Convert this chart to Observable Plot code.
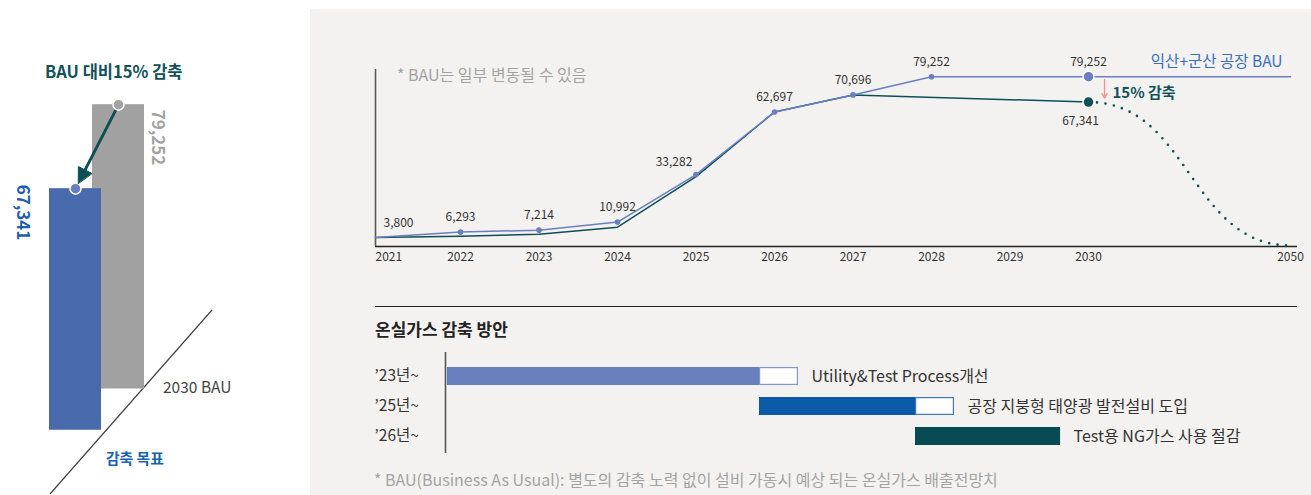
<!DOCTYPE html>
<html><head><meta charset="utf-8">
<script src="https://cdn.jsdelivr.net/npm/d3@7"></script>
<script src="https://cdn.jsdelivr.net/npm/@observablehq/plot@0.6"></script>
<style>
html,body{margin:0;padding:0;background:#fff;}
#root{position:relative;width:1311px;height:495px;overflow:hidden;font-family:"Noto Sans CJK KR","Noto Sans",sans-serif;}
.abs{position:absolute;}
.t{position:absolute;white-space:nowrap;line-height:1.2;transform:translateY(-50%);}
</style></head><body>
<div id="root">
 <div class="abs" style="left:310px;top:9px;width:1001px;height:486px;background:#f3f2f1"></div>
 <svg class="abs" style="left:0;top:0" width="310" height="495"><line x1="50" y1="494" x2="212" y2="310" stroke="#444" stroke-width="1.2"/></svg>
 <div id="left" class="abs" style="left:0;top:0;width:310px"></div>
 <div id="line" class="abs" style="left:0;top:0;width:1311px"></div>
 <div id="plan" class="abs" style="left:0;top:290px;width:1311px"></div>
 <div class="abs" style="left:375px;top:305.5px;width:922px;height:1.2px;background:#222"></div>
 <div class="t" style="left:45px;top:72px;font-size:16.5px;font-weight:700;color:#11525a">BAU 대비15% 감축</div>
 <div class="t" style="left:163px;top:386px;font-size:15.5px;color:#444">2030 BAU</div>
 <div class="t" style="left:106px;top:458px;font-size:14.8px;font-weight:700;color:#1763b0">감축 목표</div>
 <div class="t" style="left:397px;top:75px;font-size:16px;color:#a3a3a3">* BAU는 일부 변동될 수 있음</div>
 <div class="t" style="left:375px;top:329px;font-size:17px;font-weight:700;color:#222">온실가스 감축 방안</div>
 <div class="t" style="left:374px;top:480px;font-size:16px;color:#a3a3a3">* BAU(Business As Usual): 별도의 감축 노력 없이 설비 가동시 예상 되는 온실가스 배출전망치</div>
</div>
<script>
// ---------- data ----------
const compareLabels = ["감축 목표", "2030 BAU"];
const compareValues = [67341, 79252];

const bauYears = [2021, 2022, 2023, 2024, 2025, 2026, 2027, 2028, 2030];
const bauValues = [3800, 6293, 7214, 10992, 33282, 62697, 70696, 79252, 79252];
const bauHorizonYear = 2050;

const reducedYears = [2021, 2022, 2023, 2024, 2025, 2026, 2027, 2030];
const reducedValues = [3800, 4400, 5300, 8600, 32300, 62697, 70696, 67341];
const netZeroYear = 2050;
const netZeroValue = 0;

const axisYears = [2021, 2022, 2023, 2024, 2025, 2026, 2027, 2028, 2029, 2030, 2050];

const planLabels = ["’23년~", "’25년~", "’26년~"];
const planNames = ["Utility&Test Process개선", "공장 지붕형 태양광 발전설비 도입", "Test용 NG가스 사용 절감"];
const planStart = [2023, 2025, 2026];
const planEnd = [2025, 2026, 2026.93];
const planPending = [0.25, 0.25, 0];

// ---------- styles ----------
const C = {
  blueBar: "#4a6aae", grayBar: "#a0a1a0", blueDot: "#6a7fc0", grayDot: "#a3a3a3",
  teal: "#0e4f55", bau: "#6a7ec0", pink: "#f09090", text: "#333",
  plan: ["#6a7fbd", "#0b5aa8", "#064a52"], planEdge: ["#8596cf", "#3f79c2", "#064a52"]
};
const font = "'Noto Sans CJK KR','Noto Sans',sans-serif";
const fmt = d3.format(",");

// ---------- left comparison ----------
const overlap = 0.827;   // horizontal offset of second bar (layout)
const drop = 11500;      // visual baseline drop of target bar (layout)
const leftRows = compareValues.map((v, i) => ({
  label: compareLabels[i], value: v,
  x1: i * overlap, x2: i * overlap + 1, cx: i * overlap + 0.5,
  y1: i === 0 ? -drop : 0, y2: i === 0 ? v - drop : v,
  fill: i === 0 ? C.blueBar : C.grayBar, dot: i === 0 ? C.blueDot : C.grayDot
}));
const xL = {domain: [0, 1 + overlap], range: [49, 144]};
const yL = {domain: [0, 80000], range: [388.5, 101.5]};
const sx = d3.scaleLinear(xL.domain, xL.range), sy = d3.scaleLinear(yL.domain, yL.range);
const gRow = leftRows[1], bRow = leftRows[0];
const p0 = [sx(gRow.cx), sy(gRow.y2)], p1 = [sx(bRow.cx), sy(bRow.y2)];
const len = Math.hypot(p1[0] - p0[0], p1[1] - p0[1]);
const u = [(p1[0] - p0[0]) / len, (p1[1] - p0[1]) / len];
const nrm = [-u[1], u[0]];
const tip = [p1[0] - 6 * u[0], p1[1] - 6 * u[1]];
const base = [tip[0] - 15 * u[0], tip[1] - 15 * u[1]];
const hw = 7.5;
const toData = ([px, py]) => ({x: sx.invert(px), y: sy.invert(py)});
const tri = [tip, [base[0] + hw * nrm[0], base[1] + hw * nrm[1]], [base[0] - hw * nrm[0], base[1] - hw * nrm[1]]].map(toData);
const shaft = [[p0[0] + 4 * u[0], p0[1] + 4 * u[1]], [base[0] + 2 * u[0], base[1] + 2 * u[1]]].map(toData);

const left = Plot.plot({
  width: 310, height: 495, margin: 0,
  style: {background: "transparent", fontFamily: font, overflow: "visible"},
  x: {...xL, axis: null}, y: {...yL, axis: null}, color: {type: "identity"},
  marks: [
    Plot.rect([gRow, bRow], {x1: "x1", x2: "x2", y1: "y1", y2: "y2", fill: "fill"}),
    Plot.dot([bRow], {x: "cx", y: "y2", r: 5.5, fill: "dot", stroke: "#fff", strokeWidth: 1.5}),
    Plot.line(shaft, {x: "x", y: "y", stroke: C.teal, strokeWidth: 2.8}),
    Plot.line(tri, {x: "x", y: "y", curve: "linear-closed", fill: C.teal, stroke: C.teal, strokeWidth: 1}),
    Plot.dot([gRow], {x: "cx", y: "y2", r: 5.5, fill: "dot", stroke: "#fff", strokeWidth: 1.5}),
    Plot.text([gRow], {x: "x2", y: "y2", text: d => fmt(d.value), rotate: 90, textAnchor: "start", dx: 13, dy: 5, fill: "#a3a3a3", fontSize: 17, fontWeight: 700}),
    Plot.text([bRow], {x: "x1", y: "y2", text: d => fmt(d.value), rotate: 90, textAnchor: "start", dx: -27, dy: -4, fill: "#1c5eae", fontSize: 17, fontWeight: 700})
  ]
});
document.getElementById("left").append(left);

// ---------- line chart ----------
// broken time axis: first gap a bit wider, 2030→2050 compressed
const slot = d3.scaleLinear([2021, 2022, 2030, 2050], [0, 1.083, 9.083, 11.656]);
const bauData = bauYears.map((year, i) => ({year, value: bauValues[i]}));
const redData = reducedYears.map((year, i) => ({year, value: reducedValues[i]}));
const bauLast = bauData[bauData.length - 1];
const bauExt = [bauLast, {year: bauHorizonYear, value: bauLast.value}];
const redLast = redData[redData.length - 1];
const pathway = [redLast, {year: netZeroYear, value: netZeroValue}];
const yMin = -469, yMax = 82629;
const labelRows = bauData.map((d, i) => ({...d, i, text: fmt(d.value)}));
const X = d => slot(d.year);

const line = Plot.plot({
  width: 1311, height: 290, marginLeft: 375, marginRight: 14, marginTop: 69, marginBottom: 44,
  style: {background: "transparent", fontFamily: font, fontSize: "12px", overflow: "visible"},
  x: {domain: [0, 11.656], range: [375, 1290], axis: null},
  y: {domain: [yMin, yMax], axis: null},
  marks: [
    Plot.ruleX([0], {stroke: "#5a5a5a", strokeWidth: 1.6}),
    Plot.ruleY([yMin], {stroke: "#222", strokeWidth: 1.3}),
    Plot.line(pathway, {x: X, y: "value", curve: "bump-x", stroke: C.teal, strokeWidth: 2.6, strokeDasharray: "0 8.5", strokeLinecap: "round"}),
    Plot.line(bauExt, {x: X, y: "value", stroke: C.bau, strokeWidth: 1.5}),
    Plot.line(redData, {x: X, y: "value", stroke: C.teal, strokeWidth: 1.5}),
    Plot.line(bauData, {x: X, y: "value", stroke: C.bau, strokeWidth: 1.5}),
    Plot.dot(bauData.slice(1, -1), {x: X, y: "value", r: 2.8, fill: C.bau}),
    Plot.dot([bauLast], {x: X, y: "value", r: 5.5, fill: C.bau, stroke: "#fff", strokeWidth: 1.5}),
    Plot.dot([redLast], {x: X, y: "value", r: 5.5, fill: C.teal, stroke: "#fff", strokeWidth: 1.5}),
    Plot.arrow([{year: bauLast.year, y1: bauLast.value, y2: redLast.value}], {x1: X, x2: X, y1: "y1", y2: "y2", dx: 16, stroke: C.pink, strokeWidth: 1.3, headLength: 6, insetStart: 3, insetEnd: 4}),
    Plot.text([redLast], {x: X, y: "value", text: () => "15% 감축", dx: 24, dy: -9, textAnchor: "start", fill: "#11525a", fontSize: 15, fontWeight: 700}),
    Plot.text([bauExt[1]], {x: X, y: "value", text: () => "익산+군산 공장 BAU", dx: -8, dy: -15, textAnchor: "end", fill: "#3b6fc1", fontSize: 15.5}),
    Plot.text(labelRows.filter(d => d.i !== 0 && d.i !== 4), {x: X, y: "value", text: "text", dy: -15, fill: C.text}),
    Plot.text(labelRows.filter(d => d.i === 0), {x: X, y: "value", text: "text", dx: 23, dy: -14, fill: C.text}),
    Plot.text(labelRows.filter(d => d.i === 4), {x: X, y: "value", text: "text", dx: -22, dy: -12, fill: C.text}),
    Plot.text([redLast], {x: X, y: "value", text: d => fmt(d.value), dx: -8, dy: 19, fill: C.text}),
    Plot.text(axisYears.filter(y => y !== 2021), {x: d => slot(d), frameAnchor: "bottom", dy: 14, text: d => String(d), fill: C.text}),
    Plot.text(axisYears.filter(y => y === 2021), {x: d => slot(d), frameAnchor: "bottom", dy: 14, text: d => String(d), textAnchor: "start", fill: C.text})
  ]
});
document.getElementById("line").append(line);

// ---------- reduction plan ----------
const planRows = planLabels.map((label, i) => ({
  label, name: planNames[i], start: planStart[i], end: planEnd[i],
  pendingEnd: planEnd[i] + planPending[i], pending: planPending[i] > 0,
  fill: C.plan[i], edge: C.planEdge[i]
}));
const plan = Plot.plot({
  width: 1311, height: 205, marginLeft: 374, marginTop: 62, marginBottom: 42, marginRight: 0,
  style: {background: "transparent", fontFamily: font, fontSize: "15.5px", overflow: "visible"},
  x: {domain: [2023, 2026], range: [447, 915], axis: null},
  y: {type: "band", domain: planLabels, range: [66.85, 164.7], paddingInner: 0.393, paddingOuter: 0.3, axis: null},
  color: {type: "identity"},
  marks: [
    Plot.ruleX([2023], {stroke: "#555", strokeWidth: 1.6, dx: -2}),
    Plot.barX(planRows, {x1: "start", x2: "end", y: "label", fill: "fill"}),
    Plot.barX(planRows.filter(d => d.pending), {x1: "end", x2: "pendingEnd", y: "label", fill: "#fff", stroke: "edge", strokeWidth: 1.2, inset: 0.6}),
    Plot.text(planRows, {y: "label", frameAnchor: "left", textAnchor: "start", text: "label", fill: C.text}),
    Plot.text(planRows, {x: "pendingEnd", y: "label", text: "name", textAnchor: "start", dx: 13, fill: C.text, fontSize: 16})
  ]
});
document.getElementById("plan").append(plan);
</script>
</body></html>
